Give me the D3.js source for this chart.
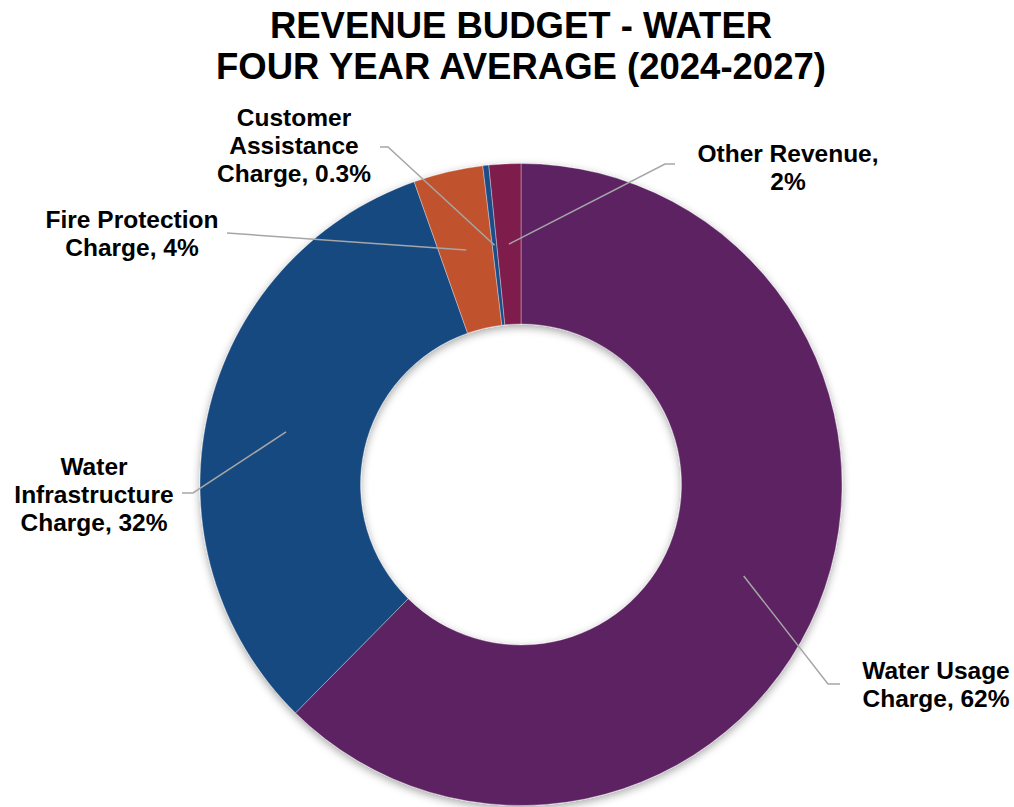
<!DOCTYPE html>
<html>
<head>
<meta charset="utf-8">
<script src="https://cdn.jsdelivr.net/npm/d3@7"></script>
<style>
  html, body { margin: 0; padding: 0; background: #fff; }
  svg { display: block; }
  text { font-family: "Liberation Sans", Arial, sans-serif; font-weight: bold; fill: #000; }
</style>
</head>
<body>
<svg id="chart" width="1014" height="807"></svg>
<script>
// ---- data ----
const titleLines = ["REVENUE BUDGET - WATER", "FOUR YEAR AVERAGE (2024-2027)"];
const categories = [
  "Water Usage Charge",
  "Water Infrastructure Charge",
  "Fire Protection Charge",
  "Customer Assistance Charge",
  "Other Revenue"
];
const values = [62.4, 32.2, 3.5, 0.3, 1.6];
// label templates ("|" = line break, {p} = percentage)
const labelTemplates = [
  "Water Usage|Charge, {p}",
  "Water|Infrastructure|Charge, {p}",
  "Fire Protection|Charge, {p}",
  "Customer|Assistance|Charge, {p}",
  "Other Revenue,|{p}"
];

// ---- styles / layout ----
const colors = ["#5B2262", "#18487F", "#C0522F", "#1D4E89", "#7E1A4B"];
const W = 1014, H = 807;
const cx = 521, cy = 484.5, rOuter = 321, rInner = 160.5;
const labelLayout = [
  { x: 936, y: 679, leader: [[828, 684], [840, 684]] },
  { x: 94,  y: 475, leader: [[193, 493], [182, 493]] },
  { x: 132, y: 228, leader: [[227, 233]] },
  { x: 294, y: 126, leader: [[388, 147], [380, 147]] },
  { x: 788, y: 162, leader: [[665, 164], [675, 164]] }
];
const lineH = 28;

const svg = d3.select("#chart");

// shadow filter
const defs = svg.append("defs");
const f = defs.append("filter").attr("id", "shadow")
  .attr("x", "-20%").attr("y", "-20%").attr("width", "140%").attr("height", "140%");
f.append("feDropShadow").attr("dx", 0).attr("dy", 3).attr("stdDeviation", 4)
  .attr("flood-color", "#000").attr("flood-opacity", 0.35);

// title
svg.append("g").selectAll("text").data(titleLines).join("text")
  .attr("x", cx).attr("y", (d, i) => 38 + i * 41)
  .attr("text-anchor", "middle")
  .style("font-size", "36.5px")
  .text(d => d);

const data = categories.map((c, i) => ({ name: c, value: values[i], i }));
const pie = d3.pie().sort(null).value(d => d.value).startAngle(0).endAngle(2 * Math.PI);
const arcs = pie(data);
const arc = d3.arc().innerRadius(rInner).outerRadius(rOuter);

const g = svg.append("g").attr("transform", `translate(${cx},${cy})`);
g.append("g").attr("filter", "url(#shadow)")
  .selectAll("path").data(arcs).join("path")
  .attr("d", arc)
  .attr("fill", d => colors[d.data.i])
  .attr("stroke", "#ffffff")
  .attr("stroke-opacity", 0.45)
  .attr("stroke-width", 0.75);

// leader lines
const fmtPct = v => (v < 1 ? v.toFixed(1) : String(Math.round(v))) + "%";
const leaders = svg.append("g");
arcs.forEach(a => {
  const c = arc.centroid(a);
  const pts = [[cx + c[0], cy + c[1]]].concat(labelLayout[a.data.i].leader);
  leaders.append("path")
    .attr("d", d3.line()(pts))
    .attr("fill", "none")
    .attr("stroke", "#A6A6A6")
    .attr("stroke-width", 1.5);
});

// labels
const labels = svg.append("g");
arcs.forEach(a => {
  const L = labelLayout[a.data.i];
  const lines = labelTemplates[a.data.i].replace("{p}", fmtPct(a.data.value)).split("|");
  const t = labels.append("text")
    .attr("text-anchor", "middle")
    .style("font-size", "24.5px");
  lines.forEach((ln, k) => {
    t.append("tspan").attr("x", L.x).attr("y", L.y + k * lineH).text(ln);
  });
});
</script>
</body>
</html>
